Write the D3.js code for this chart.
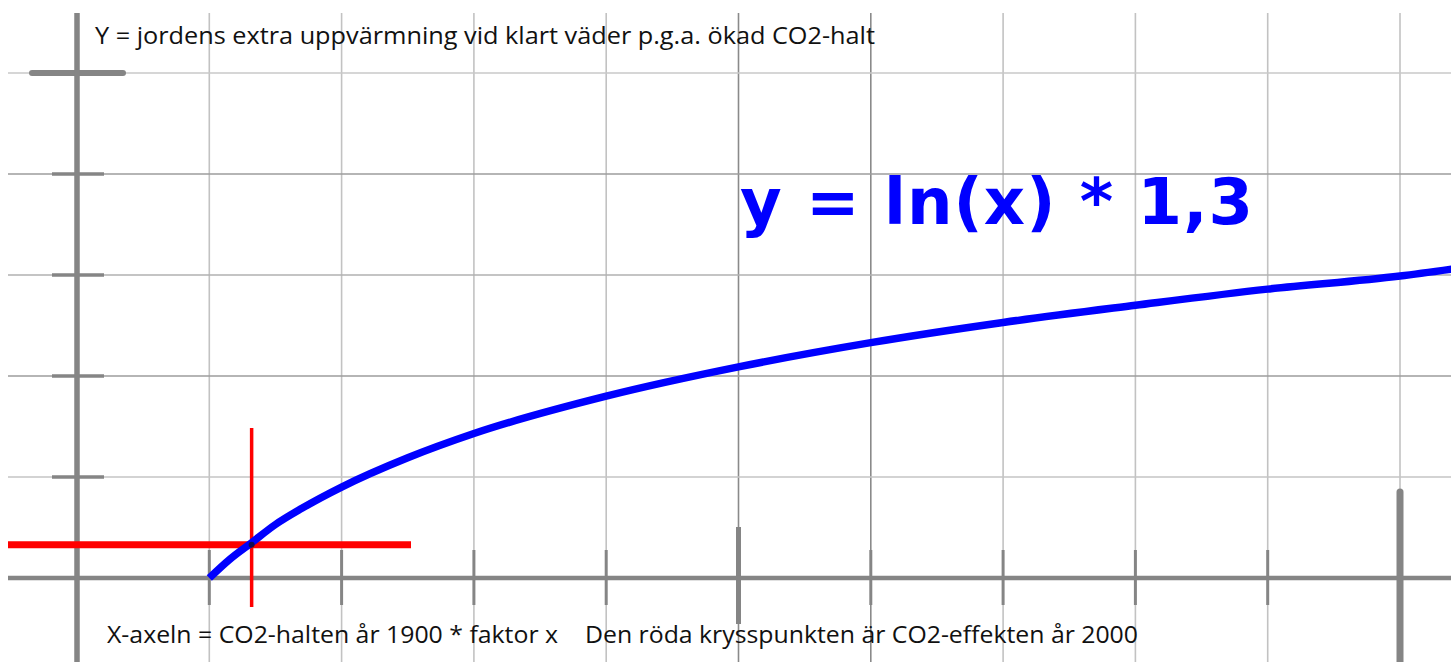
<!DOCTYPE html>
<head>
    <meta charset="utf-8">
    <script src="https://d3js.org/d3.v7.min.js"></script>
    <style>
        body {
            margin: 0;
            background: #fff;
        }
        text.note {
            font-family: "Open Sans", sans-serif;
            font-size: 24px;
            fill: #111;
        }
        text.formula {
            font-family: "DejaVu Sans", Verdana, sans-serif;
            font-weight: bold;
            font-size: 64px;
            fill: #0000ff;
        }
    </style>
</head>

<body>
    <script>
        // CO2 factor (x) and extra warming (y)
        var curveX = [1, 1.15, 1.32, 1.5, 1.7, 2, 2.5, 3, 4, 5, 6, 7, 8, 9, 10, 10.4];
        var curveY = [0, 0.18, 0.35, 0.53, 0.69, 0.9, 1.19, 1.43, 1.8, 2.09, 2.33, 2.53, 2.70, 2.86, 2.99, 3.06];

        // the red cross (CO2 in year 2000)
        var crossX = 1.32,
            crossY = 0.33;

        var xGrid = [1, 2, 3, 4, 5, 6, 7, 8, 9, 10];
        var yGrid = [1, 2, 3, 4, 5];
        var darkX = [5, 6];
        var yShade = {1: "#c4c4c4", 2: "#9c9c9c", 3: "#b0b0b0", 4: "#9c9c9c", 5: "#c8c8c8"};

        var yLabel = "Y = jordens extra uppvärmning vid klart väder p.g.a. ökad CO2-halt";
        var xLabel1 = "X-axeln = CO2-halten år 1900 * faktor x";
        var xLabel2 = "Den röda krysspunkten är CO2-effekten år 2000";
        var formula = "y = ln(x) * 1,3";

        var W = 1451, H = 662;

        var x = d3.scaleLinear().domain([0, 10]).range([77, 1400]);
        var y = d3.scaleLinear().domain([0, 5]).range([578, 73]);

        var svg = d3.select("body").append("svg")
            .attr("width", W)
            .attr("height", H);

        // grid
        svg.append("g").selectAll("line")
            .data(xGrid)
            .enter().append("line")
            .attr("x1", function(d) { return x(d); })
            .attr("x2", function(d) { return x(d); })
            .attr("y1", 13)
            .attr("y2", H)
            .attr("stroke", function(d) { return darkX.indexOf(d) >= 0 ? "#8a8a8a" : "#c2c2c2"; })
            .attr("stroke-width", 1.6);

        svg.append("g").selectAll("line")
            .data(yGrid)
            .enter().append("line")
            .attr("x1", 8)
            .attr("x2", W)
            .attr("y1", function(d) { return y(d); })
            .attr("y2", function(d) { return y(d); })
            .attr("stroke", function(d) { return yShade[d]; })
            .attr("stroke-width", 1.6);

        var axisCol = "#858585";

        // y ticks
        svg.append("g").selectAll("line")
            .data(yGrid)
            .enter().append("line")
            .attr("x1", function(d) { return d == 5 ? 32 : 52; })
            .attr("x2", function(d) { return d == 5 ? 123 : 104; })
            .attr("y1", function(d) { return y(d); })
            .attr("y2", function(d) { return y(d); })
            .attr("stroke", axisCol)
            .attr("stroke-width", function(d) { return d == 5 ? 6 : 3.5; })
            .attr("stroke-linecap", function(d) { return d == 5 ? "round" : "butt"; });

        // x ticks
        svg.append("g").selectAll("line")
            .data(xGrid)
            .enter().append("line")
            .attr("x1", function(d) { return x(d); })
            .attr("x2", function(d) { return x(d); })
            .attr("y1", function(d) { return d == 10 ? 492 : d == 5 ? 527 : 550; })
            .attr("y2", function(d) { return d == 10 ? H : d == 5 ? 624 : 605; })
            .attr("stroke", axisCol)
            .attr("stroke-width", function(d) { return d == 10 ? 7 : d == 5 ? 5 : 3; })
            .attr("stroke-linecap", function(d) { return d == 10 ? "round" : "butt"; });

        // axes
        svg.append("line")
            .attr("x1", 8).attr("x2", W)
            .attr("y1", y(0)).attr("y2", y(0))
            .attr("stroke", axisCol)
            .attr("stroke-width", 4.5);

        svg.append("line")
            .attr("x1", x(0)).attr("x2", x(0))
            .attr("y1", 13).attr("y2", H)
            .attr("stroke", axisCol)
            .attr("stroke-width", 5.5);

        // red cross
        svg.append("line")
            .attr("x1", 8).attr("x2", 411)
            .attr("y1", y(crossY)).attr("y2", y(crossY))
            .attr("stroke", "#ff0000")
            .attr("stroke-width", 7);

        svg.append("line")
            .attr("x1", x(crossX)).attr("x2", x(crossX))
            .attr("y1", 428).attr("y2", 607)
            .attr("stroke", "#ff0000")
            .attr("stroke-width", 3.5);

        // curve
        var line = d3.line()
            .x(function(d) { return x(d[0]); })
            .y(function(d) { return y(d[1]); })
            .curve(d3.curveMonotoneX);

        svg.append("path")
            .datum(d3.zip(curveX, curveY))
            .attr("d", line)
            .attr("fill", "none")
            .attr("stroke", "#0000ff")
            .attr("stroke-width", 7.5);

        svg.append("circle")
            .attr("cx", x(crossX))
            .attr("cy", y(crossY))
            .attr("r", 3)
            .attr("fill", "#111")
            .attr("opacity", 0.7);

        // texts
        svg.append("text")
            .attr("class", "note")
            .attr("x", 95).attr("y", 44)
            .attr("textLength", 780)
            .attr("lengthAdjust", "spacingAndGlyphs")
            .text(yLabel);

        svg.append("text")
            .attr("class", "note")
            .attr("x", 107).attr("y", 643)
            .attr("textLength", 451)
            .attr("lengthAdjust", "spacingAndGlyphs")
            .text(xLabel1);

        svg.append("text")
            .attr("class", "note")
            .attr("x", 585).attr("y", 643)
            .attr("textLength", 553)
            .attr("lengthAdjust", "spacingAndGlyphs")
            .text(xLabel2);

        svg.append("text")
            .attr("class", "formula")
            .attr("x", 740).attr("y", 224)
            .attr("textLength", 513)
            .attr("lengthAdjust", "spacing")
            .text(formula);
    </script>
</body>
